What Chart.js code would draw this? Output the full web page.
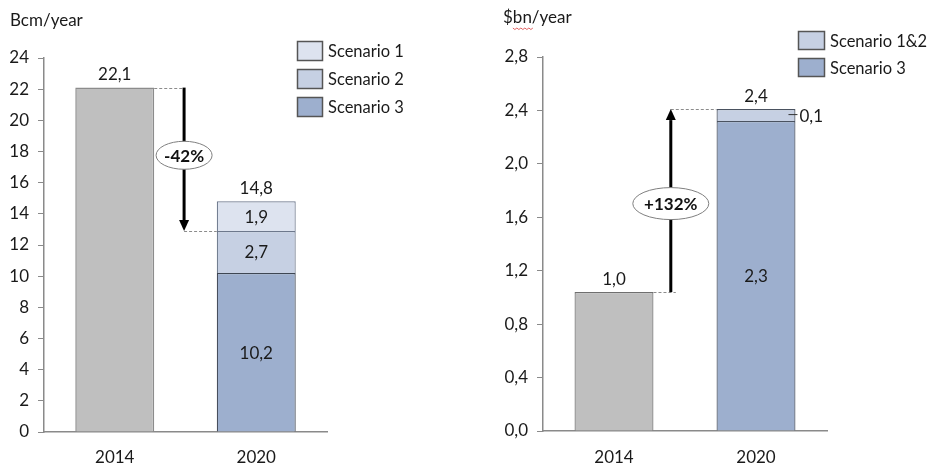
<!DOCTYPE html>
<html><head><meta charset="utf-8">
<script src="https://cdn.jsdelivr.net/npm/chart.js@4.4.1/dist/chart.umd.min.js"></script>
<style>
html,body{margin:0;padding:0;background:#fff;width:928px;height:465px;overflow:hidden}
.box{position:absolute;top:0;width:464px;height:465px}
canvas{display:block}
</style></head><body>
<div class="box" style="left:0"><canvas id="c1" width="464" height="465"></canvas></div>
<div class="box" style="left:464px"><canvas id="c2" width="464" height="465"></canvas></div>
<script>
// ---- Data: left chart (volume, Bcm/year)
const volumeYears = ['2014', '2020'];
const volumeBase = [22.1, null];
const volumeScenario3 = [null, 10.2];
const volumeScenario2 = [null, 2.7];
const volumeScenario1 = [null, 1.9];
const volumeTickMin = 0, volumeTickMax = 24, volumeTickStep = 2;
const volumeUnit = 'Bcm/year';

// ---- Data: right chart (value, $bn/year)
const valueYears = ['2014', '2020'];
const valueBase = [1.04, null];
const valueScenario3 = [null, 2.32];
const valueScenario12 = [null, 0.09];
const valueTickMin = 0, valueTickMax = 2.8, valueTickStep = 0.4;
const valueUnit = '$bn/year';

const FONT = "Lato, 'Open Sans', sans-serif";
Chart.defaults.font.family = FONT;
Chart.defaults.font.size = 17;
Chart.defaults.color = '#1a1a1a';

const AXIS = '#8a8a8a';
const GRAY = '#BFBFBF', S1 = '#DDE3EF', S2 = '#C6D0E3', S3 = '#9DAFCE';
const TXT = '#1a1a1a';
const comma = v => v.toFixed(1).replace('.', ',');

const annotPlugin = {
  id: 'annot',
  afterDatasetsDraw(chart, args, s) {
    const ctx = chart.ctx, x = chart.scales.x, y = chart.scales.y;
    const ds = chart.data.datasets;
    ctx.save();
    // axis unit title
    ctx.font = '17px ' + FONT; ctx.fillStyle = TXT;
    ctx.textAlign = 'left'; ctx.textBaseline = 'middle';
    ctx.fillText(s.unit, s.unitX, s.unitY);
    if (s.squiggle) {
      const pre = ctx.measureText(s.unit.slice(0, s.squiggle[0])).width;
      const w = ctx.measureText(s.unit.slice(s.squiggle[0], s.squiggle[1])).width;
      ctx.strokeStyle = '#e06060'; ctx.lineWidth = 1;
      ctx.beginPath();
      let xx = s.unitX + pre, up = true;
      ctx.moveTo(xx, s.unitY + 10);
      while (xx < s.unitX + pre + w) { xx += 2; up = !up; ctx.lineTo(xx, s.unitY + (up ? 10 : 11.5)); }
      ctx.stroke();
    }
    // value labels inside segments
    ctx.font = '17px ' + FONT;
    ctx.textAlign = 'center';
    s.inside.forEach(di => {
      chart.getDatasetMeta(di).data.forEach((el, i) => {
        const v = ds[di].data[i];
        if (v == null) return;
        ctx.fillText(comma(v), el.x, (el.y + el.base) / 2 + 1);
      });
    });
    // totals above bars
    chart.data.labels.forEach((_, i) => {
      let sum = 0, cx = null;
      ds.forEach((d, di) => { if (d.data[i] != null) { sum += d.data[i]; cx = chart.getDatasetMeta(di).data[i].x; } });
      ctx.fillText(comma(sum), cx, y.getPixelForValue(sum) - 13);
    });
    // outside label with leader
    if (s.outside != null) {
      const el = chart.getDatasetMeta(s.outside).data[1];
      const v = ds[s.outside].data[1];
      const r = el.x + el.width / 2, cy = (el.y + el.base) / 2;
      ctx.strokeStyle = '#333'; ctx.lineWidth = 1;
      ctx.beginPath(); ctx.moveTo(r - 7, cy - 0.5); ctx.lineTo(r + 2, cy - 0.5); ctx.stroke();
      ctx.textAlign = 'left';
      ctx.fillText(comma(v), r + 4, cy + 1);
    }
    // arrow annotation
    const a = s.arrow;
    const b0 = chart.getDatasetMeta(0).data[0];
    const b1 = chart.getDatasetMeta(ds.length - 1).data[1];
    const r0 = b0.x + b0.width / 2, l1 = b1.x - b1.width / 2;
    const ax = x.getPixelForValue(a.xPos);
    const yF = y.getPixelForValue(a.from), yT = y.getPixelForValue(a.to);
    ctx.strokeStyle = '#8c8c8c'; ctx.lineWidth = 1; ctx.setLineDash([3, 2]);
    ctx.beginPath(); ctx.moveTo(r0, Math.round(yF) + 0.5); ctx.lineTo(ax + a.ext, Math.round(yF) + 0.5); ctx.stroke();
    ctx.beginPath(); ctx.moveTo(ax, Math.round(yT) + 0.5); ctx.lineTo(l1, Math.round(yT) + 0.5); ctx.stroke();
    ctx.setLineDash([]);
    const dir = yT > yF ? 1 : -1;
    const head = 11;
    ctx.strokeStyle = '#000'; ctx.lineWidth = 3;
    ctx.beginPath(); ctx.moveTo(ax, yF); ctx.lineTo(ax, yT - dir * head); ctx.stroke();
    ctx.fillStyle = '#000';
    ctx.beginPath(); ctx.moveTo(ax, yT); ctx.lineTo(ax - 5, yT - dir * head); ctx.lineTo(ax + 5, yT - dir * head); ctx.closePath(); ctx.fill();
    const pct = Math.round((a.to - a.from) / a.from * 100);
    const txt = (pct > 0 ? '+' : '') + pct + '%';
    const ey = (yF + yT) / 2 + a.shift;
    ctx.beginPath(); ctx.ellipse(ax, ey, a.rx, a.ry, 0, 0, Math.PI * 2);
    ctx.fillStyle = '#fff'; ctx.fill();
    ctx.strokeStyle = '#7f7f7f'; ctx.lineWidth = 1; ctx.stroke();
    ctx.fillStyle = '#111'; ctx.font = 'bold 17px ' + FONT; ctx.textAlign = 'center';
    ctx.fillText(txt, ax, ey + 1);
    // legend
    const L = s.legend;
    ctx.font = '16.5px ' + FONT; ctx.textAlign = 'left';
    L.order.forEach((di, k) => {
      const by = L.y + k * L.gap;
      ctx.fillStyle = ds[di].backgroundColor;
      ctx.fillRect(L.x, by, L.w, L.h);
      ctx.strokeStyle = '#555'; ctx.lineWidth = 1.5;
      ctx.strokeRect(L.x + 0.5, by + 0.5, L.w - 1, L.h - 1);
      ctx.fillStyle = TXT;
      ctx.fillText(ds[di].label, L.x + L.w + 5, by + L.h / 2 + 1);
    });
    ctx.restore();
  }
};

function scales(min, max, step, fmt, yW, xH, tickPad, xPad) {
  return {
    x: {
      stacked: true, offset: true,
      grid: { display: true, drawOnChartArea: false, drawTicks: false, color: AXIS },
      border: { display: true, color: AXIS, width: 1.5 },
      ticks: { padding: xPad, color: TXT, font: { size: 17 } },
      afterFit: s => { s.height = xH; }
    },
    y: {
      stacked: true, min: min, max: max,
      grid: { display: true, drawOnChartArea: false, drawTicks: true, tickLength: 6, color: AXIS },
      border: { display: true, color: AXIS, width: 1.5 },
      ticks: { stepSize: step, padding: tickPad, color: TXT, font: { size: 17 }, callback: fmt },
      afterFit: s => { s.width = yW; }
    }
  };
}

new Chart(document.getElementById('c1'), {
  type: 'bar',
  data: {
    labels: volumeYears,
    datasets: [
      { label: '2014', data: volumeBase, backgroundColor: GRAY, borderColor: '#8c8c8c', borderWidth: 1.5 },
      { label: 'Scenario 3', data: volumeScenario3, backgroundColor: S3, borderColor: '#3e4653', borderWidth: 1.2 },
      { label: 'Scenario 2', data: volumeScenario2, backgroundColor: S2, borderColor: '#6d788c', borderWidth: 1.2 },
      { label: 'Scenario 1', data: volumeScenario1, backgroundColor: S1, borderColor: '#6d788c', borderWidth: 1.2 }
    ]
  },
  options: {
    responsive: false, animation: false, devicePixelRatio: 1,
    layout: { padding: { left: 0, top: 58, right: 137, bottom: 0 } },
    datasets: { bar: { categoryPercentage: 1, barPercentage: 0.558 } },
    scales: scales(volumeTickMin, volumeTickMax, volumeTickStep, v => String(v), 44, 33, 9, 15),
    plugins: {
      legend: { display: false }, tooltip: { enabled: false },
      annot: {
        unit: volumeUnit, unitX: 10, unitY: 21,
        inside: [1, 2, 3],
        outside: null,
        arrow: { from: volumeBase[0], to: volumeScenario3[1] + volumeScenario2[1], xPos: 0.49, ext: 0, rx: 28, ry: 14, shift: -4 },
        legend: { x: 297, y: 41, w: 26, h: 20, gap: 28, order: [3, 2, 1] }
      }
    }
  },
  plugins: [annotPlugin]
});

new Chart(document.getElementById('c2'), {
  type: 'bar',
  data: {
    labels: valueYears,
    datasets: [
      { label: '2014', data: valueBase, backgroundColor: GRAY, borderColor: '#6f6f6f', borderWidth: 1.2 },
      { label: 'Scenario 3', data: valueScenario3, backgroundColor: S3, borderColor: '#4a5260', borderWidth: 1.2 },
      { label: 'Scenario 1&2', data: valueScenario12, backgroundColor: S2, borderColor: '#4a5260', borderWidth: 1.2 }
    ]
  },
  options: {
    responsive: false, animation: false, devicePixelRatio: 1,
    layout: { padding: { left: 0, top: 57, right: 101, bottom: 0 } },
    datasets: { bar: { categoryPercentage: 1, barPercentage: 0.556 } },
    scales: scales(valueTickMin, valueTickMax, valueTickStep, v => comma(v), 79, 34, 9, 16),
    plugins: {
      legend: { display: false }, tooltip: { enabled: false },
      annot: {
        unit: valueUnit, unitX: 39, unitY: 18, squiggle: [1, 3],
        inside: [1],
        outside: 2,
        arrow: { from: valueBase[0], to: valueScenario3[1] + valueScenario12[1], xPos: 0.4, ext: 5, rx: 38, ry: 16, shift: 3 },
        legend: { x: 334, y: 31, w: 27, h: 19, gap: 27, order: [2, 1] }
      }
    }
  },
  plugins: [annotPlugin]
});
</script>
</body></html>
